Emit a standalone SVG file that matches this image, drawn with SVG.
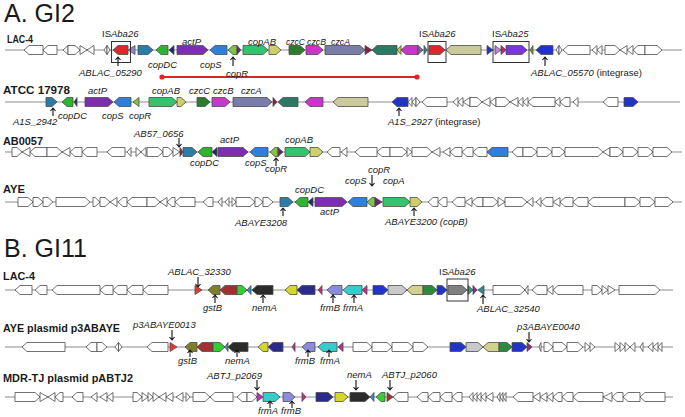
<svg xmlns="http://www.w3.org/2000/svg" width="685" height="417" viewBox="0 0 685 417">
<style>
.bb{stroke:#8c8c8c;stroke-width:1}
polygon{stroke:#4d4d4d;stroke-width:0.8;stroke-linejoin:miter}
.w{fill:#fff}
.red{fill:#d62b2b}.lav{fill:#8f86d9}.teal{fill:#2b7ca6}.grn{fill:#2db52d}.nav{fill:#1f2b6b}
.pur{fill:#7d2eb0}.blu{fill:#2f80da}.lgr{fill:#82c341}.dpu{fill:#6b2373}.cgr{fill:#34c46c}
.yel{fill:#cfcf6b}.dgr{fill:#2d7b2d}.mag{fill:#c936c9}.sla{fill:#7b7da9}.dre{fill:#8e1e40}
.dte{fill:#2a7b63}.kha{fill:#caca9c}.bbl{fill:#2233cc}.pnk{fill:#c383e3}.crm{fill:#b02b6b}
.vio{fill:#7b35da}.olv{fill:#8a8a30}.gpu{fill:#7a6a9a}.tq{fill:#2a8090}.yl2{fill:#c8c840}
.bred{fill:#e33a3a}.bolv{fill:#7e7e2c}.bdre{fill:#a23030}.bgrn{fill:#36cc36}.bbt{fill:#3a8bd0}
.blk{fill:#2b2b2b}.byel{fill:#d6d62c}.bnav{fill:#2b2b8c}.bmag{fill:#c42b8c}.blav{fill:#8b8be0}
.bcy{fill:#36cccc}.bgry{fill:#c9c9c9}.bkha{fill:#d2d28e}.bdgr{fill:#2c8a3c}.bgra{fill:#808080}
.btg{fill:#2ba07c}.bdm{fill:#8b2b8b}.btl{fill:#2b8a8a}.bpm{fill:#c02ac0}
text{font-family:"Liberation Sans",Arial,sans-serif;fill:#1a1a1a}
.i{font-style:italic;font-size:9.5px}
.n{font-size:9.5px}
.b{font-weight:bold;font-size:11.5px}
.h{font-size:25px}
.ptr{fill:none;stroke:#111;stroke-width:1.1}
.box{fill:none;stroke:#333;stroke-width:1}
</style>
<rect width="685" height="417" fill="#fff"/>

<text class="h" x="4" y="22">A. GI2</text>
<text class="h" x="4" y="257">B. GI11</text>

<!-- Track 1: GI2 LAC-4 -->
<g id="gi2-lac4" transform="translate(0,50)">
<line class="bb" x1="5" y1="0" x2="682" y2="0"/>
<polygon class="w" points="43,-4.5 29,-4.5 24,0 29,4.5 43,4.5"/>
<polygon class="w" points="57,-4.5 48,-4.5 43,0 48,4.5 57,4.5"/>
<polygon class="w" points="68,-4.5 63,0 68,4.5"/>
<polygon class="w" points="68,-4.5 75,-4.5 80,0 75,4.5 68,4.5"/>
<polygon class="w" points="80,-4.5 87,0 80,4.5"/>
<polygon class="w" points="94,-4.5 87,0 94,4.5"/>
<polygon class="w" points="107,-4.5 104,0 107,4.5"/>
<polygon class="w" points="107,-4.5 110,0 107,4.5"/>
<polygon id="lac4-ISAba26a" class="red" points="128,-4.5 118,-4.5 113,0 118,4.5 128,4.5"/>
<polygon class="lav" points="135,-4.5 128,0 135,4.5"/>
<polygon id="lac4-05290" class="teal" points="138,-4.5 148,-4.5 153,0 148,4.5 138,4.5"/>
<polygon id="lac4-copDC" class="grn" points="168,-4.5 161,-4.5 156,0 161,4.5 168,4.5"/>
<polygon class="nav" points="174,-4.5 169,0 174,4.5"/>
<polygon id="lac4-actP" class="pur" points="177,-4.5 203,-4.5 208,0 203,4.5 177,4.5"/>
<polygon id="lac4-copS" class="blu" points="227,-4.5 215,-4.5 210,0 215,4.5 227,4.5"/>
<polygon id="lac4-copR" class="lgr" points="237,-4.5 233,-4.5 228,0 233,4.5 237,4.5"/>
<polygon class="dpu" points="237,-4.5 241,0 237,4.5"/>
<polygon id="lac4-copAB" class="cgr" points="243,-4.5 263,-4.5 268,0 263,4.5 243,4.5"/>
<polygon class="yel" points="269,-4.5 276,-4.5 281,0 276,4.5 269,4.5"/>
<polygon id="lac4-czcC" class="dgr" points="289,-4.5 300,-4.5 305,0 300,4.5 289,4.5"/>
<polygon id="lac4-czcB" class="mag" points="306,-4.5 318,-4.5 323,0 318,4.5 306,4.5"/>
<polygon id="lac4-czcA" class="sla" points="325,-4.5 360,-4.5 365,0 360,4.5 325,4.5"/>
<polygon class="dre" points="365,-4.5 372,0 365,4.5"/>
<polygon class="dte" points="397,-4.5 377,-4.5 372,0 377,4.5 397,4.5"/>
<polygon class="yl2" points="401,-4.5 397,0 401,4.5"/>
<polygon class="mag" points="418,-4.5 406,-4.5 401,0 406,4.5 418,4.5"/>
<polygon class="gpu" points="418,-4.5 423,0 418,4.5"/>
<polygon class="tq" points="424,-4.5 427,0 424,4.5"/>
<polygon id="lac4-ISAba26b" class="red" points="429,-4.5 440,-4.5 445,0 440,4.5 429,4.5"/>
<polygon class="kha" points="481,-4.5 451,-4.5 446,0 451,4.5 481,4.5"/>
<polygon class="bbl" points="487,-4.5 493,0 487,4.5"/>
<polygon class="pnk" points="495,-4.5 501,0 495,4.5"/>
<polygon class="crm" points="501,-4.5 506,0 501,4.5"/>
<polygon id="lac4-ISAba25" class="vio" points="506,-4.5 522,-4.5 527,0 522,4.5 506,4.5"/>
<polygon class="olv" points="533,-4.5 530,0 533,4.5"/>
<polygon id="lac4-05570" class="bbl" points="553,-4.5 541,-4.5 536,0 541,4.5 553,4.5"/>
<polygon class="w" points="559,-4.5 556,0 559,4.5"/>
<polygon class="w" points="559,-4.5 562,0 559,4.5"/>
<polygon class="w" points="590,-4.5 568,-4.5 563,0 568,4.5 590,4.5"/>
<polygon class="w" points="597,-4.5 592,0 597,4.5"/>
<polygon class="w" points="602,-4.5 597,0 602,4.5"/>
<polygon class="w" points="605,-4.5 615,-4.5 620,0 615,4.5 605,4.5"/>
<polygon class="w" points="627,-4.5 620,0 627,4.5"/>
<polygon class="w" points="633,-4.5 627,0 633,4.5"/>
<polygon class="w" points="645,-4.5 638,-4.5 633,0 638,4.5 645,4.5"/>
<polygon class="w" points="645,-4.5 657,-4.5 662,0 657,4.5 645,4.5"/>
<rect class="box" x="111.5" y="-8.5" width="19" height="21"/>
<rect class="box" x="428" y="-8.5" width="18" height="21"/>
<rect class="box" x="493" y="-8.5" width="36" height="21"/>
</g>

<!-- Track 2: ATCC 17978 -->
<g id="gi2-atcc" transform="translate(0,102)">
<line class="bb" x1="5" y1="0" x2="680" y2="0"/>
<polygon id="atcc-2942" class="teal" points="46,-4.5 52,-4.5 57,0 52,4.5 46,4.5"/>
<polygon id="atcc-copDC" class="grn" points="73,-4.5 67,-4.5 62,0 67,4.5 73,4.5"/>
<polygon class="nav" points="77,-4.5 74,0 77,4.5"/>
<polygon id="atcc-actP" class="pur" points="85,-4.5 108,-4.5 113,0 108,4.5 85,4.5"/>
<polygon id="atcc-copS" class="blu" points="131,-4.5 119,-4.5 114,0 119,4.5 131,4.5"/>
<polygon id="atcc-copR" class="lgr" points="139,-4.5 133,0 139,4.5"/>
<polygon id="atcc-copAB" class="cgr" points="149,-4.5 172,-4.5 177,0 172,4.5 149,4.5"/>
<polygon class="yel" points="177,-4.5 181,-4.5 186,0 181,4.5 177,4.5"/>
<polygon id="atcc-czcC" class="dgr" points="197,-4.5 205,-4.5 210,0 205,4.5 197,4.5"/>
<polygon id="atcc-czcB" class="mag" points="212,-4.5 225,-4.5 230,0 225,4.5 212,4.5"/>
<polygon id="atcc-czcA" class="sla" points="233,-4.5 267,-4.5 272,0 267,4.5 233,4.5"/>
<polygon class="dre" points="273,-4.5 277,0 273,4.5"/>
<polygon class="dte" points="298,-4.5 283,-4.5 278,0 283,4.5 298,4.5"/>
<polygon class="mag" points="323,-4.5 310,-4.5 305,0 310,4.5 323,4.5"/>
<polygon class="kha" points="368,-4.5 338,-4.5 333,0 338,4.5 368,4.5"/>
<polygon id="atcc-2927" class="bbl" points="408,-4.5 397,-4.5 392,0 397,4.5 408,4.5"/>
<polygon class="w" points="412,-4.5 408,0 412,4.5"/>
<polygon class="w" points="416,-4.5 412,0 416,4.5"/>
<polygon class="w" points="416,-4.5 420,0 416,4.5"/>
<polygon class="w" points="447,-4.5 427,-4.5 422,0 427,4.5 447,4.5"/>
<polygon class="w" points="458,-4.5 453,0 458,4.5"/>
<polygon class="w" points="463,-4.5 458,0 463,4.5"/>
<polygon class="w" points="470,-4.5 463,0 470,4.5"/>
<polygon class="w" points="470,-4.5 477,-4.5 482,0 477,4.5 470,4.5"/>
<polygon class="w" points="490,-4.5 482,0 490,4.5"/>
<polygon class="w" points="496,-4.5 490,0 496,4.5"/>
<polygon class="w" points="496,-4.5 505,-4.5 510,0 505,4.5 496,4.5"/>
<polygon class="w" points="518,-4.5 510,0 518,4.5"/>
<polygon class="w" points="523,-4.5 518,0 523,4.5"/>
<polygon class="w" points="528,-4.5 523,0 528,4.5"/>
<polygon class="w" points="555,-4.5 533,-4.5 528,0 533,4.5 555,4.5"/>
<polygon class="w" points="560,-4.5 555,0 560,4.5"/>
<polygon class="w" points="570,-4.5 565,-4.5 560,0 565,4.5 570,4.5"/>
<polygon class="w" points="578,-4.5 573,0 578,4.5"/>
<polygon class="w" points="618,-4.5 608,-4.5 603,0 608,4.5 618,4.5"/>
<polygon class="bbl" points="624,-4.5 633,-4.5 638,0 633,4.5 624,4.5"/>
</g>

<!-- Track 3: AB0057 -->
<g id="gi2-ab0057" transform="translate(0,152)">
<line class="bb" x1="5" y1="0" x2="682" y2="0"/>
<polygon class="w" points="12,-4.5 17,-4.5 22,0 17,4.5 12,4.5"/>
<polygon class="w" points="30,-4.5 22,0 30,4.5"/>
<polygon class="w" points="47,-4.5 35,-4.5 30,0 35,4.5 47,4.5"/>
<polygon class="w" points="47,-4.5 57,-4.5 62,0 57,4.5 47,4.5"/>
<polygon class="w" points="70,-4.5 62,0 70,4.5"/>
<polygon class="w" points="82,-4.5 75,-4.5 70,0 75,4.5 82,4.5"/>
<polygon class="w" points="97,-4.5 87,-4.5 82,0 87,4.5 97,4.5"/>
<polygon class="w" points="125,-4.5 112,-4.5 107,0 112,4.5 125,4.5"/>
<polygon class="w" points="131,-4.5 127,0 131,4.5"/>
<polygon class="w" points="136,-4.5 141,0 136,4.5"/>
<polygon class="w" points="146,-4.5 141,0 146,4.5"/>
<polygon class="w" points="147,-4.5 158,-4.5 163,0 158,4.5 147,4.5"/>
<polygon class="w" points="163,-4.5 168,-4.5 173,0 168,4.5 163,4.5"/>
<polygon class="w" points="173,-4.5 180,0 173,4.5"/>
<polygon id="ab57-0656" class="dre" points="180,-4.5 183,0 180,4.5"/>
<polygon class="teal" points="183,-4.5 192,-4.5 197,0 192,4.5 183,4.5"/>
<polygon id="ab57-copDC" class="grn" points="212,-4.5 203,-4.5 198,0 203,4.5 212,4.5"/>
<polygon class="nav" points="217,-4.5 212,0 217,4.5"/>
<polygon id="ab57-actP" class="pur" points="218,-4.5 243,-4.5 248,0 243,4.5 218,4.5"/>
<polygon id="ab57-copS" class="blu" points="268,-4.5 255,-4.5 250,0 255,4.5 268,4.5"/>
<polygon id="ab57-copR" class="lgr" points="278,-4.5 275,-4.5 270,0 275,4.5 278,4.5"/>
<polygon class="dpu" points="278,-4.5 283,0 278,4.5"/>
<polygon id="ab57-copAB" class="cgr" points="285,-4.5 305,-4.5 310,0 305,4.5 285,4.5"/>
<polygon class="yel" points="310,-4.5 318,-4.5 323,0 318,4.5 310,4.5"/>
<polygon class="w" points="340,-4.5 332,-4.5 327,0 332,4.5 340,4.5"/>
<polygon class="w" points="347,-4.5 341,0 347,4.5"/>
<polygon class="w" points="377,-4.5 360,-4.5 355,0 360,4.5 377,4.5"/>
<polygon class="w" points="390,-4.5 382,-4.5 377,0 382,4.5 390,4.5"/>
<polygon class="w" points="390,-4.5 402,-4.5 407,0 402,4.5 390,4.5"/>
<polygon class="w" points="407,-4.5 412,0 407,4.5"/>
<polygon class="w" points="412,-4.5 427,-4.5 432,0 427,4.5 412,4.5"/>
<polygon class="w" points="440,-4.5 432,0 440,4.5"/>
<polygon class="w" points="450,-4.5 443,0 450,4.5"/>
<polygon class="w" points="462,-4.5 455,-4.5 450,0 455,4.5 462,4.5"/>
<polygon class="w" points="473,-4.5 467,-4.5 462,0 467,4.5 473,4.5"/>
<polygon class="w" points="487,-4.5 478,-4.5 473,0 478,4.5 487,4.5"/>
<polygon class="blu" points="508,-4.5 492,-4.5 487,0 492,4.5 508,4.5"/>
<polygon class="w" points="523,-4.5 517,-4.5 512,0 517,4.5 523,4.5"/>
<polygon class="w" points="523,-4.5 532,-4.5 537,0 532,4.5 523,4.5"/>
<polygon class="w" points="537,-4.5 547,-4.5 552,0 547,4.5 537,4.5"/>
<polygon class="w" points="552,-4.5 560,-4.5 565,0 560,4.5 552,4.5"/>
<polygon class="w" points="565,-4.5 598,-4.5 603,0 598,4.5 565,4.5"/>
<polygon class="w" points="610,-4.5 603,0 610,4.5"/>
<polygon class="w" points="610,-4.5 618,-4.5 623,0 618,4.5 610,4.5"/>
<polygon class="w" points="623,-4.5 633,-4.5 638,0 633,4.5 623,4.5"/>
<polygon class="w" points="638,-4.5 648,-4.5 653,0 648,4.5 638,4.5"/>
<polygon class="w" points="653,-4.5 667,-4.5 672,0 667,4.5 653,4.5"/>
</g>

<!-- Track 4: AYE -->
<g id="gi2-aye" transform="translate(0,202)">
<line class="bb" x1="5" y1="0" x2="682" y2="0"/>
<polygon class="w" points="18,-4.5 28,-4.5 33,0 28,4.5 18,4.5"/>
<polygon class="w" points="33,-4.5 38,-4.5 43,0 38,4.5 33,4.5"/>
<polygon class="w" points="43,-4.5 48,-4.5 53,0 48,4.5 43,4.5"/>
<polygon class="w" points="56,-4.5 85,-4.5 90,0 85,4.5 56,4.5"/>
<polygon class="w" points="93,-4.5 95,-4.5 100,0 95,4.5 93,4.5"/>
<polygon class="w" points="100,-4.5 105,-4.5 110,0 105,4.5 100,4.5"/>
<polygon class="w" points="117,-4.5 110,0 117,4.5"/>
<polygon class="w" points="127,-4.5 123,-4.5 118,0 123,4.5 127,4.5"/>
<polygon class="w" points="147,-4.5 132,-4.5 127,0 132,4.5 147,4.5"/>
<polygon class="w" points="147,-4.5 155,-4.5 160,0 155,4.5 147,4.5"/>
<polygon class="w" points="167,-4.5 160,0 167,4.5"/>
<polygon class="w" points="175,-4.5 172,-4.5 167,0 172,4.5 175,4.5"/>
<polygon class="w" points="195,-4.5 180,-4.5 175,0 180,4.5 195,4.5"/>
<polygon class="w" points="213,-4.5 208,-4.5 203,0 208,4.5 213,4.5"/>
<polygon class="w" points="222,-4.5 218,0 222,4.5"/>
<polygon class="w" points="229,-4.5 225,0 229,4.5"/>
<polygon class="w" points="232,-4.5 236,0 232,4.5"/>
<polygon class="w" points="236,-4.5 250,-4.5 255,0 250,4.5 236,4.5"/>
<polygon class="w" points="255,-4.5 258,-4.5 263,0 258,4.5 255,4.5"/>
<polygon class="w" points="263,-4.5 268,-4.5 273,0 268,4.5 263,4.5"/>
<polygon id="aye-3208" class="teal" points="280,-4.5 288,-4.5 293,0 288,4.5 280,4.5"/>
<polygon id="aye-copDC" class="grn" points="308,-4.5 300,-4.5 295,0 300,4.5 308,4.5"/>
<polygon class="nav" points="313,-4.5 308,0 313,4.5"/>
<polygon id="aye-actP" class="pur" points="315,-4.5 342,-4.5 347,0 342,4.5 315,4.5"/>
<polygon id="aye-copS" class="blu" points="367,-4.5 353,-4.5 348,0 353,4.5 367,4.5"/>
<polygon id="aye-copR" class="lgr" points="375,-4.5 372,-4.5 367,0 372,4.5 375,4.5"/>
<polygon class="dpu" points="375,-4.5 382,0 375,4.5"/>
<polygon id="aye-copA" class="cgr" points="383,-4.5 405,-4.5 410,0 405,4.5 383,4.5"/>
<polygon id="aye-3200" class="yel" points="410,-4.5 417,-4.5 422,0 417,4.5 410,4.5"/>
<polygon class="w" points="438,-4.5 433,-4.5 428,0 433,4.5 438,4.5"/>
<polygon class="w" points="447,-4.5 443,-4.5 438,0 443,4.5 447,4.5"/>
<polygon class="w" points="465,-4.5 457,-4.5 452,0 457,4.5 465,4.5"/>
<polygon class="w" points="472,-4.5 465,0 472,4.5"/>
<polygon class="w" points="483,-4.5 477,-4.5 472,0 477,4.5 483,4.5"/>
<polygon class="w" points="483,-4.5 493,-4.5 498,0 493,4.5 483,4.5"/>
<polygon class="w" points="498,-4.5 505,0 498,4.5"/>
<polygon class="w" points="505,-4.5 522,-4.5 527,0 522,4.5 505,4.5"/>
<polygon class="w" points="533,-4.5 527,0 533,4.5"/>
<polygon class="w" points="541,-4.5 536,0 541,4.5"/>
<polygon class="w" points="553,-4.5 546,-4.5 541,0 546,4.5 553,4.5"/>
<polygon class="w" points="560,-4.5 553,0 560,4.5"/>
<polygon class="w" points="573,-4.5 565,-4.5 560,0 565,4.5 573,4.5"/>
<polygon class="w" points="588,-4.5 578,-4.5 573,0 578,4.5 588,4.5"/>
<polygon class="w" points="625,-4.5 593,-4.5 588,0 593,4.5 625,4.5"/>
<polygon class="w" points="625,-4.5 635,-4.5 640,0 635,4.5 625,4.5"/>
<polygon class="w" points="640,-4.5 650,-4.5 655,0 650,4.5 640,4.5"/>
<polygon class="w" points="655,-4.5 668,-4.5 673,0 668,4.5 655,4.5"/>
</g>

<!-- Track 5: GI11 LAC-4 -->
<g id="gi11-lac4" transform="translate(0,290)">
<line class="bb" x1="5" y1="0" x2="673" y2="0"/>
<polygon class="w" points="32,-4.5 20,-4.5 15,0 20,4.5 32,4.5"/>
<polygon class="w" points="47,-4.5 40,-4.5 35,0 40,4.5 47,4.5"/>
<polygon class="w" points="100,-4.5 57,-4.5 52,0 57,4.5 100,4.5"/>
<polygon class="w" points="113,-4.5 105,-4.5 100,0 105,4.5 113,4.5"/>
<polygon class="w" points="127,-4.5 118,-4.5 113,0 118,4.5 127,4.5"/>
<polygon class="w" points="143,-4.5 132,-4.5 127,0 132,4.5 143,4.5"/>
<polygon class="w" points="168,-4.5 148,-4.5 143,0 148,4.5 168,4.5"/>
<polygon id="lac4-32330" class="bred" points="195,-4.5 202,0 195,4.5"/>
<polygon id="lac4-gstB" class="bolv" points="220,-4.5 213,-4.5 208,0 213,4.5 220,4.5"/>
<polygon class="bdre" points="237,-4.5 225,-4.5 220,0 225,4.5 237,4.5"/>
<polygon class="bgrn" points="237,-4.5 242,-4.5 247,0 242,4.5 237,4.5"/>
<polygon class="bbt" points="251,-4.5 247,0 251,4.5"/>
<polygon id="lac4-nemA" class="blk" points="273,-4.5 257,-4.5 252,0 257,4.5 273,4.5"/>
<polygon class="byel" points="297,-4.5 290,-4.5 285,0 290,4.5 297,4.5"/>
<polygon class="bnav" points="315,-4.5 302,-4.5 297,0 302,4.5 315,4.5"/>
<polygon class="bmag" points="322,-4.5 318,0 322,4.5"/>
<polygon id="lac4-frmB" class="blav" points="342,-4.5 332,-4.5 327,0 332,4.5 342,4.5"/>
<polygon id="lac4-frmA" class="bcy" points="362,-4.5 348,-4.5 343,0 348,4.5 362,4.5"/>
<polygon class="bmag" points="367,-4.5 362,0 367,4.5"/>
<polygon class="bbl" points="373,-4.5 383,-4.5 388,0 383,4.5 373,4.5"/>
<polygon class="bgry" points="388,-4.5 402,-4.5 407,0 402,4.5 388,4.5"/>
<polygon class="bkha" points="423,-4.5 412,-4.5 407,0 412,4.5 423,4.5"/>
<polygon class="bdgr" points="423,-4.5 432,-4.5 437,0 432,4.5 423,4.5"/>
<polygon class="bbl" points="437,-4.5 442,-4.5 447,0 442,4.5 437,4.5"/>
<polygon id="lac4-ISAba26c" class="bgra" points="448,-4.5 462,-4.5 467,0 462,4.5 448,4.5"/>
<polygon class="btg" points="468,-4.5 473,0 468,4.5"/>
<polygon class="bdm" points="473,-4.5 477,0 473,4.5"/>
<polygon id="lac4-32540" class="btl" points="484,-4.5 478,0 484,4.5"/>
<polygon class="w" points="493,-4.5 520,-4.5 525,0 520,4.5 493,4.5"/>
<polygon class="w" points="528,-4.5 525,0 528,4.5"/>
<polygon class="w" points="547,-4.5 537,-4.5 532,0 537,4.5 547,4.5"/>
<polygon class="w" points="553,-4.5 547,0 553,4.5"/>
<polygon class="w" points="583,-4.5 558,-4.5 553,0 558,4.5 583,4.5"/>
<polygon class="w" points="592,-4.5 597,-4.5 602,0 597,4.5 592,4.5"/>
<polygon class="w" points="602,-4.5 608,0 602,4.5"/>
<polygon class="w" points="608,-4.5 615,0 608,4.5"/>
<polygon class="w" points="619,-4.5 655,-4.5 660,0 655,4.5 619,4.5"/>
<rect class="box" x="447" y="-11" width="21" height="22"/>
</g>

<!-- Track 6: AYE plasmid p3ABAYE -->
<g id="gi11-aye" transform="translate(0,347)">
<line class="bb" x1="5" y1="0" x2="673" y2="0"/>
<polygon class="w" points="65,-4.5 27,-4.5 22,0 27,4.5 65,4.5"/>
<polygon class="w" points="97,-4.5 91,-4.5 86,0 91,4.5 97,4.5"/>
<polygon class="w" points="97,-4.5 102,-4.5 107,0 102,4.5 97,4.5"/>
<polygon class="w" points="118.5,-4.5 115,0 118.5,4.5"/>
<polygon class="w" points="118.5,-4.5 122,0 118.5,4.5"/>
<polygon class="w" points="168,-4.5 152,-4.5 147,0 152,4.5 168,4.5"/>
<polygon id="aye-0013" class="bred" points="170,-4.5 177,0 170,4.5"/>
<polygon id="aye-gstB" class="bolv" points="197,-4.5 190,-4.5 185,0 190,4.5 197,4.5"/>
<polygon class="bdre" points="213,-4.5 202,-4.5 197,0 202,4.5 213,4.5"/>
<polygon class="bgrn" points="213,-4.5 220,-4.5 225,0 220,4.5 213,4.5"/>
<polygon class="bbt" points="228,-4.5 225,0 228,4.5"/>
<polygon id="aye-nemA" class="blk" points="248,-4.5 233,-4.5 228,0 233,4.5 248,4.5"/>
<polygon class="byel" points="268,-4.5 263,-4.5 258,0 263,4.5 268,4.5"/>
<polygon class="bnav" points="283,-4.5 273,-4.5 268,0 273,4.5 283,4.5"/>
<polygon class="bmag" points="295,-4.5 292,0 295,4.5"/>
<polygon id="aye-frmB" class="blav" points="315,-4.5 307,-4.5 302,0 307,4.5 315,4.5"/>
<polygon id="aye-frmA" class="bcy" points="337,-4.5 323,-4.5 318,0 323,4.5 337,4.5"/>
<polygon class="bmag" points="343,-4.5 338,0 343,4.5"/>
<polygon class="w" points="353,-4.5 367,-4.5 372,0 367,4.5 353,4.5"/>
<polygon class="w" points="372,-4.5 387,-4.5 392,0 387,4.5 372,4.5"/>
<polygon class="w" points="392,-4.5 408,-4.5 413,0 408,4.5 392,4.5"/>
<polygon class="w" points="413,-4.5 423,-4.5 428,0 423,4.5 413,4.5"/>
<polygon class="bbl" points="450,-4.5 461,-4.5 466,0 461,4.5 450,4.5"/>
<polygon class="bgry" points="466,-4.5 478,-4.5 483,0 478,4.5 466,4.5"/>
<polygon class="bkha" points="499,-4.5 488,-4.5 483,0 488,4.5 499,4.5"/>
<polygon class="bdgr" points="499,-4.5 507,-4.5 512,0 507,4.5 499,4.5"/>
<polygon class="bbl" points="512,-4.5 522,-4.5 527,0 522,4.5 512,4.5"/>
<polygon id="aye-0040" class="bdm" points="527,-4.5 532,0 527,4.5"/>
<polygon class="w" points="541,-4.5 539,0 541,4.5"/>
<polygon class="w" points="544,-4.5 548,-4.5 553,0 548,4.5 544,4.5"/>
<polygon class="w" points="553,-4.5 562,-4.5 567,0 562,4.5 553,4.5"/>
<polygon class="w" points="567,-4.5 578,-4.5 583,0 578,4.5 567,4.5"/>
<polygon class="w" points="585,-4.5 590,0 585,4.5"/>
<polygon class="w" points="590,-4.5 595,0 590,4.5"/>
<polygon class="w" points="615,-4.5 620,0 615,4.5"/>
<polygon class="w" points="620,-4.5 625,0 620,4.5"/>
<polygon class="w" points="625,-4.5 630,0 625,4.5"/>
<polygon class="w" points="635,-4.5 630,0 635,4.5"/>
<polygon class="w" points="643,-4.5 640,0 643,4.5"/>
<polygon class="w" points="653,-4.5 648,0 653,4.5"/>
<polygon class="w" points="658,-4.5 653,0 658,4.5"/>
<polygon class="w" points="662,-4.5 658,0 662,4.5"/>
</g>

<!-- Track 7: MDR-TJ plasmid pABTJ2 -->
<g id="gi11-mdrtj" transform="translate(0,397)">
<line class="bb" x1="5" y1="0" x2="673" y2="0"/>
<polygon class="w" points="15,-4.5 35,-4.5 40,0 35,4.5 15,4.5"/>
<polygon class="w" points="40,-4.5 48,0 40,4.5"/>
<polygon class="w" points="55,-4.5 48,0 55,4.5"/>
<polygon class="w" points="63,-4.5 60,-4.5 55,0 60,4.5 63,4.5"/>
<polygon class="w" points="83,-4.5 77,-4.5 72,0 77,4.5 83,4.5"/>
<polygon class="w" points="97,-4.5 91,0 97,4.5"/>
<polygon class="w" points="107,-4.5 100,0 107,4.5"/>
<polygon class="w" points="113,-4.5 107,0 113,4.5"/>
<polygon class="w" points="133,-4.5 137,-4.5 142,0 137,4.5 133,4.5"/>
<polygon class="w" points="142,-4.5 148,0 142,4.5"/>
<polygon class="w" points="148,-4.5 153,0 148,4.5"/>
<polygon class="w" points="153,-4.5 159,0 153,4.5"/>
<polygon class="w" points="166,-4.5 159,0 166,4.5"/>
<polygon class="w" points="173,-4.5 166,0 173,4.5"/>
<polygon class="w" points="183,-4.5 176,0 183,4.5"/>
<polygon class="w" points="186,-4.5 190,0 186,4.5"/>
<polygon class="w" points="193,-4.5 205,-4.5 210,0 205,4.5 193,4.5"/>
<polygon class="w" points="233,-4.5 215,-4.5 210,0 215,4.5 233,4.5"/>
<polygon class="w" points="247,-4.5 242,-4.5 237,0 242,4.5 247,4.5"/>
<polygon class="w" points="247,-4.5 252,-4.5 257,0 252,4.5 247,4.5"/>
<polygon id="tj-2069" class="bpm" points="257,-4.5 263,0 257,4.5"/>
<polygon id="tj-frmA" class="bcy" points="263,-4.5 275,-4.5 280,0 275,4.5 263,4.5"/>
<polygon id="tj-frmB" class="blav" points="283,-4.5 290,-4.5 295,0 290,4.5 283,4.5"/>
<polygon class="bmag" points="302,-4.5 306,0 302,4.5"/>
<polygon class="bnav" points="316,-4.5 328,-4.5 333,0 328,4.5 316,4.5"/>
<polygon class="byel" points="335,-4.5 343,-4.5 348,0 343,4.5 335,4.5"/>
<polygon id="tj-nemA" class="blk" points="350,-4.5 365,-4.5 370,0 365,4.5 350,4.5"/>
<polygon class="bbt" points="374,-4.5 370,0 374,4.5"/>
<polygon class="bgrn" points="385,-4.5 381,-4.5 376,0 381,4.5 385,4.5"/>
<polygon id="tj-2060" class="bdre" points="387,-4.5 393,0 387,4.5"/>
<polygon class="w" points="408,-4.5 398,-4.5 393,0 398,4.5 408,4.5"/>
<polygon class="w" points="428,-4.5 422,-4.5 417,0 422,4.5 428,4.5"/>
<polygon class="w" points="440,-4.5 433,-4.5 428,0 433,4.5 440,4.5"/>
<polygon class="w" points="452,-4.5 445,-4.5 440,0 445,4.5 452,4.5"/>
<polygon class="w" points="462,-4.5 457,-4.5 452,0 457,4.5 462,4.5"/>
<polygon class="w" points="473,-4.5 469,0 473,4.5"/>
<polygon class="w" points="477,-4.5 473,0 477,4.5"/>
<polygon class="w" points="481,-4.5 477,0 481,4.5"/>
<polygon class="w" points="486,-4.5 481,0 486,4.5"/>
<polygon class="w" points="493,-4.5 486,0 493,4.5"/>
<polygon class="w" points="500,-4.5 497,0 500,4.5"/>
<polygon class="w" points="503,-4.5 500,0 503,4.5"/>
<polygon class="w" points="506,-4.5 503,0 506,4.5"/>
<polygon class="w" points="533,-4.5 518,-4.5 513,0 518,4.5 533,4.5"/>
<polygon class="w" points="540,-4.5 533,0 540,4.5"/>
<polygon class="w" points="547,-4.5 540,0 547,4.5"/>
<polygon class="w" points="553,-4.5 547,0 553,4.5"/>
<polygon class="w" points="562,-4.5 558,-4.5 553,0 558,4.5 562,4.5"/>
<polygon class="w" points="573,-4.5 567,-4.5 562,0 567,4.5 573,4.5"/>
<polygon class="w" points="603,-4.5 578,-4.5 573,0 578,4.5 603,4.5"/>
<polygon class="w" points="612,-4.5 603,0 612,4.5"/>
<polygon class="w" points="623,-4.5 617,-4.5 612,0 617,4.5 623,4.5"/>
<polygon class="w" points="640,-4.5 628,-4.5 623,0 628,4.5 640,4.5"/>
<polygon class="w" points="665,-4.5 645,-4.5 640,0 645,4.5 665,4.5"/>
</g>

<!-- Connectors: pointer arrows and the red span line -->
<g id="connectors">
<path class="ptr" d="M118 66V57M115.5 60L118 57L120.5 60"/>
<path class="ptr" d="M233 66V57M230.5 60L233 57L235.5 60"/>
<path class="ptr" d="M545 66V57M542.5 60L545 57L547.5 60"/>
<path class="ptr" d="M53 116V108M50.5 111L53 108L55.5 111"/>
<path class="ptr" d="M399 116V108M396.5 111L399 108L401.5 111"/>
<path class="ptr" d="M179 138V147M176.5 144L179 147L181.5 144"/>
<path class="ptr" d="M276 166V158M273.5 161L276 158L278.5 161"/>
<path class="ptr" d="M372 175V186M369.5 183L372 186L374.5 183"/>
<path class="ptr" d="M283 216V208M280.5 211L283 208L285.5 211"/>
<path class="ptr" d="M414 216V208M411.5 211L414 208L416.5 211"/>
<path class="ptr" d="M198 277V287M195.5 284L198 287L200.5 284"/>
<path class="ptr" d="M215 303V295M212.5 298L215 295L217.5 298"/>
<path class="ptr" d="M263 303V295M260.5 298L263 295L265.5 298"/>
<path class="ptr" d="M333 303V295M330.5 298L333 295L335.5 298"/>
<path class="ptr" d="M354 303V295M351.5 298L354 295L356.5 298"/>
<path class="ptr" d="M483 304V295M480.5 298L483 295L485.5 298"/>
<path class="ptr" d="M172 330V340M169.5 337L172 340L174.5 337"/>
<path class="ptr" d="M529 332V342M526.5 339L529 342L531.5 339"/>
<path class="ptr" d="M190 357V350M187.5 353L190 350L192.5 353"/>
<path class="ptr" d="M237 357V350M234.5 353L237 350L239.5 353"/>
<path class="ptr" d="M308 357V350M305.5 353L308 350L310.5 353"/>
<path class="ptr" d="M329 357V350M326.5 353L329 350L331.5 353"/>
<path class="ptr" d="M257 380V390M254.5 387L257 390L259.5 387"/>
<path class="ptr" d="M356 380V390M353.5 387L356 390L358.5 387"/>
<path class="ptr" d="M390 380V390M387.5 387L390 390L392.5 387"/>
<path class="ptr" d="M270 408V401M267.5 404L270 401L272.5 404"/>
<path class="ptr" d="M292 408V401M289.5 404L292 401L294.5 404"/>
<line x1="162" y1="77" x2="417" y2="77" stroke="#e32222" stroke-width="2"/>
<circle cx="162" cy="77" r="2.6" fill="#e32222"/>
<circle cx="417" cy="77" r="2.6" fill="#e32222"/>
</g>

<!-- Labels -->
<g id="labels">
<text class="b" x="7" y="43" textLength="26" lengthAdjust="spacingAndGlyphs">LAC-4</text>
<text class="n" x="102" y="37">IS<tspan font-style="italic">Aba26</tspan></text>
<text class="n" x="419" y="37">IS<tspan font-style="italic">Aba26</tspan></text>
<text class="n" x="492" y="37">IS<tspan font-style="italic">Aba25</tspan></text>
<text class="i" x="182" y="45">actP</text>
<text class="i" x="248" y="45">copAB</text>
<text class="i" x="286" y="45" textLength="19" lengthAdjust="spacingAndGlyphs">czcC</text>
<text class="i" x="307" y="45" textLength="19" lengthAdjust="spacingAndGlyphs">czcB</text>
<text class="i" x="331" y="45" textLength="19" lengthAdjust="spacingAndGlyphs">czcA</text>
<text class="i" x="79" y="76">ABLAC_05290</text>
<text class="i" x="148" y="68">copDC</text>
<text class="i" x="200" y="68">copS</text>
<text class="i" x="226" y="77">copR</text>
<text class="i" x="531" y="76">ABLAC_05570<tspan font-style="normal"> (integrase)</tspan></text>

<text class="b" x="3" y="94" textLength="67" lengthAdjust="spacingAndGlyphs">ATCC 17978</text>
<text class="i" x="88" y="94">actP</text>
<text class="i" x="152" y="94">copAB</text>
<text class="i" x="189" y="94">czcC</text>
<text class="i" x="213" y="94">czcB</text>
<text class="i" x="241" y="94">czcA</text>
<text class="i" x="13" y="125">A1S_2942</text>
<text class="i" x="58" y="119">copDC</text>
<text class="i" x="102" y="119">copS</text>
<text class="i" x="129" y="119">copR</text>
<text class="i" x="388" y="125">A1S_2927<tspan font-style="normal"> (integrase)</tspan></text>

<text class="b" x="3" y="145" textLength="40" lengthAdjust="spacingAndGlyphs">AB0057</text>
<text class="i" x="134" y="137">AB57_0656</text>
<text class="i" x="220" y="143">actP</text>
<text class="i" x="285" y="143">copAB</text>
<text class="i" x="190" y="166">copDC</text>
<text class="i" x="245" y="166">copS</text>
<text class="i" x="265" y="172">copR</text>

<text class="b" x="3" y="193" textLength="22" lengthAdjust="spacingAndGlyphs">AYE</text>
<text class="i" x="295" y="193">copDC</text>
<text class="i" x="345" y="184">copS</text>
<text class="i" x="368" y="173">copR</text>
<text class="i" x="383" y="184">copA</text>
<text class="i" x="320" y="215">actP</text>
<text class="i" x="235" y="226">ABAYE3208</text>
<text class="i" x="385" y="225">ABAYE3200 (copB)</text>

<text class="b" x="3" y="280" textLength="32" lengthAdjust="spacingAndGlyphs">LAC-4</text>
<text class="i" x="168" y="275">ABLAC_32330</text>
<text class="n" x="439" y="275">IS<tspan font-style="italic">Aba26</tspan></text>
<text class="i" x="203" y="311">gstB</text>
<text class="i" x="252" y="311">nemA</text>
<text class="i" x="320" y="311">frmB</text>
<text class="i" x="343" y="311">frmA</text>
<text class="i" x="477" y="312">ABLAC_32540</text>

<text class="b" x="3" y="332" textLength="117" lengthAdjust="spacingAndGlyphs">AYE plasmid p3ABAYE</text>
<text class="i" x="133" y="328">p3ABAYE0013</text>
<text class="i" x="517" y="330">p3ABAYE0040</text>
<text class="i" x="178" y="364">gstB</text>
<text class="i" x="225" y="364">nemA</text>
<text class="i" x="295" y="364">frmB</text>
<text class="i" x="320" y="364">frmA</text>

<text class="b" x="3" y="382" textLength="130" lengthAdjust="spacingAndGlyphs">MDR-TJ plasmid pABTJ2</text>
<text class="i" x="207" y="379">ABTJ_p2069</text>
<text class="i" x="347" y="378">nemA</text>
<text class="i" x="382" y="378">ABTJ_p2060</text>
<text class="i" x="258" y="414">frmA</text>
<text class="i" x="281" y="414">frmB</text>
</g>
</svg>
